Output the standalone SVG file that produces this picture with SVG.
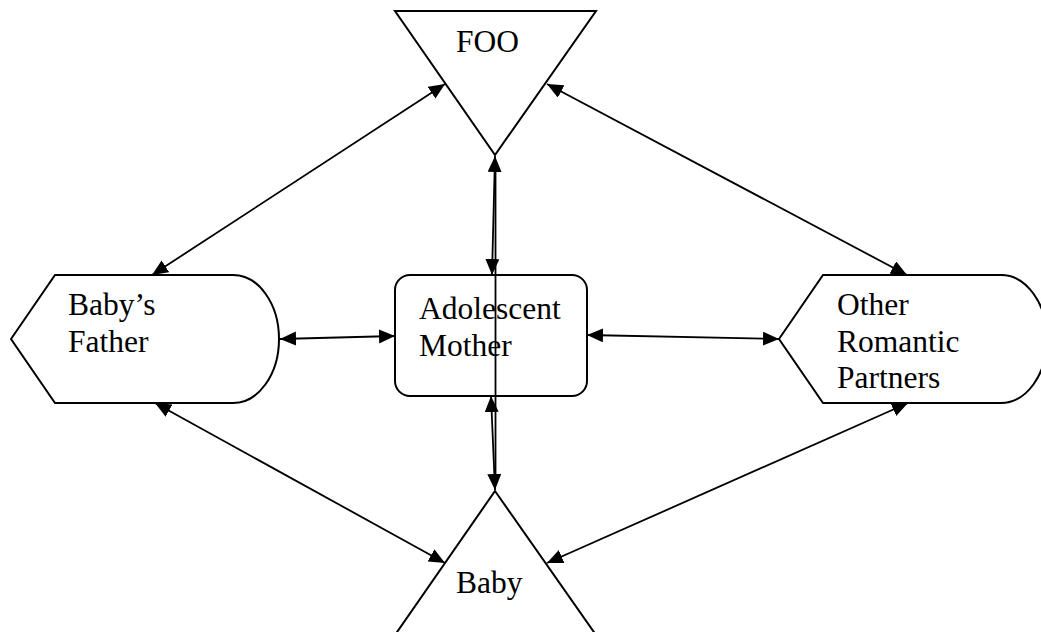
<svg xmlns="http://www.w3.org/2000/svg" width="1041" height="632" viewBox="0 0 1041 632">
<style>
.shape{fill:#fff;stroke:#000;stroke-width:2}
.lbl{font-family:"Liberation Serif","Times New Roman",serif;font-size:31.5px;fill:#000}
.conn line{stroke:#000;stroke-width:1.8}
.arr{marker-start:url(#ah);marker-end:url(#ah)}
</style>
<defs>
<marker id="ah" markerUnits="userSpaceOnUse" markerWidth="17" markerHeight="15" refX="16" refY="7" orient="auto-start-reverse" viewBox="0 0 17 15">
<path d="M0,0 L16,7 L0,14 Z" fill="#000"/>
</marker>
</defs>
<rect width="1041" height="632" fill="#fff"/>
<g id="foo">
<polygon class="shape" points="395,11 596,11 495,155"/>
<text class="lbl" x="456" y="52">FOO</text>
</g>
<g id="babys-father">
<path class="shape" d="M11,339 L55,275 L233,275 A46,64 0 0 1 233,403 L55,403 Z"/>
<text class="lbl" x="68" y="315">Baby’s</text>
<text class="lbl" x="68" y="352">Father</text>
</g>
<g id="adolescent-mother">
<rect class="shape" x="395" y="275" width="192" height="121" rx="15" ry="15"/>
<text class="lbl" x="419" y="319">Adolescent</text>
<text class="lbl" x="419" y="356">Mother</text>
</g>
<g id="other-partners">
<path class="shape" d="M779,339 L823,275 L1001,275 A46,64 0 0 1 1001,403 L823,403 Z"/>
<text class="lbl" x="837" y="315">Other</text>
<text class="lbl" x="837" y="352">Romantic</text>
<text class="lbl" x="837" y="388">Partners</text>
</g>
<g id="baby">
<polygon class="shape" points="495,491 596,635 395,635"/>
<text class="lbl" x="456" y="593">Baby</text>
</g>
<g id="connectors" class="conn">
<line class="arr" x1="445" y1="84" x2="152" y2="275"/>
<line class="arr" x1="547" y1="84" x2="907" y2="275"/>
<line class="arr" x1="280" y1="339" x2="395" y2="336"/>
<line class="arr" x1="587" y1="335" x2="779" y2="339"/>
<line class="arr" x1="155" y1="403" x2="445" y2="563"/>
<line class="arr" x1="908" y1="403" x2="547" y2="563"/>
<line class="arr" x1="495" y1="156" x2="492" y2="275"/>
<line class="arr" x1="491" y1="396" x2="495" y2="490"/>
<line x1="495.5" y1="165" x2="495.5" y2="482"/>
</g>
</svg>
